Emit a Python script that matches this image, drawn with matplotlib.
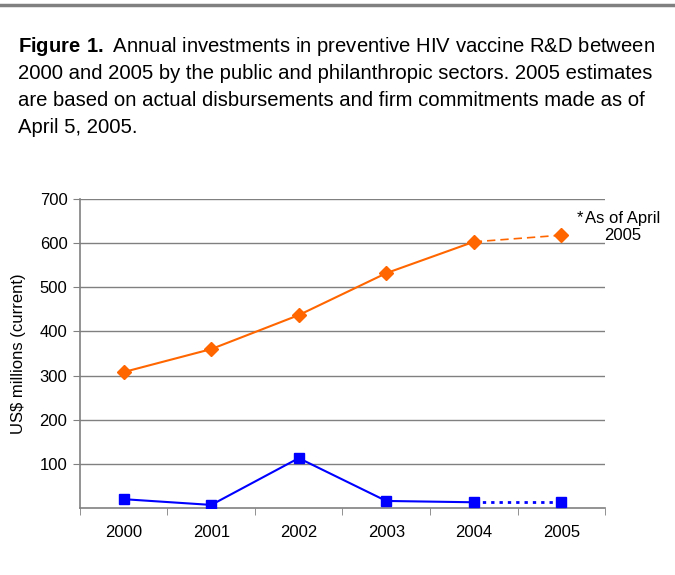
import matplotlib
matplotlib.use("Agg")
import matplotlib.pyplot as plt
from matplotlib.lines import Line2D

plt.rcParams["font.family"] = ["Liberation Sans", "DejaVu Sans"]
plt.rcParams["mathtext.fontset"] = "custom"
plt.rcParams["mathtext.rm"] = "Liberation Sans"
plt.rcParams["mathtext.bf"] = "Liberation Sans:bold"

YEARS = ["2000", "2001", "2002", "2003", "2004", "2005"]
PUBLIC = [308, 360, 437, 532, 603, 618]
PHILANTHROPIC = [20, 7, 113, 16, 13, 13]
Y_TICKS = [100, 200, 300, 400, 500, 600, 700]

CAPTION_LINES = [
    "$\\bf{Figure\\ 1.}$ Annual investments in preventive HIV vaccine R&D between",
    "2000 and 2005 by the public and philanthropic sectors. 2005 estimates",
    "are based on actual disbursements and firm commitments made as of",
    "April 5, 2005.",
]

ORANGE = "#FF6600"
BLUE = "#0000FF"
GRID = "#808080"

fig = plt.figure(figsize=(6.75, 5.75), dpi=100)
ax = fig.add_axes([0.1185, 0.1165, 0.7778, 0.5374])

x = list(range(len(YEARS)))

# actual years solid, 2005 estimate dashed/dotted
ax.plot(x[:5], PUBLIC[:5], color=ORANGE, lw=1.5, marker="D", ms=7,
        markeredgecolor=ORANGE, zorder=3)
ax.plot(x[4:], PUBLIC[4:], color=ORANGE, lw=1.2, ls=(0, (5, 3)), zorder=3)
ax.plot(x[5:], PUBLIC[5:], color=ORANGE, marker="D", ms=7, ls="none", zorder=3)

ax.plot(x[:5], PHILANTHROPIC[:5], color=BLUE, lw=1.5, marker="s", ms=7,
        markeredgecolor=BLUE, zorder=3)
ax.plot(x[4:], PHILANTHROPIC[4:], color=BLUE, lw=2, ls=(0, (1.2, 1.8)), zorder=3)
ax.plot(x[5:], PHILANTHROPIC[5:], color=BLUE, marker="s", ms=7, ls="none", zorder=3)

ax.set_xlim(-0.5, 5.5)
ax.set_ylim(0, 700)
ax.set_yticks(Y_TICKS)
ax.set_yticklabels([str(v) for v in Y_TICKS], fontsize=12)
ax.set_xticks(x)
ax.set_xticklabels(YEARS, fontsize=12)
ax.set_xticks([i - 0.5 for i in range(len(YEARS) + 1)], minor=True)
ax.tick_params(axis="x", which="major", length=0, pad=12)
ax.tick_params(axis="x", which="minor", length=5, color=GRID, direction="out")
ax.tick_params(axis="y", length=5, color=GRID, direction="out", pad=4)

ax.grid(axis="y", color=GRID, lw=1)
ax.set_axisbelow(True)
for side in ["top", "right"]:
    ax.spines[side].set_visible(False)
ax.spines["left"].set_color(GRID)
ax.spines["bottom"].set_color(GRID)
ax.spines["left"].set_linewidth(1.2)
ax.spines["bottom"].set_linewidth(1.2)

ax.set_ylabel("US$ millions (current)", fontsize=12, labelpad=10)

fig.text(0.855, 0.622, "*", fontsize=12, ha="left", va="center")
fig.text(0.922, 0.605, "As of April\n2005", fontsize=12, ha="center", va="center",
         linespacing=1.2, multialignment="center")

fig.add_artist(Line2D([0, 1], [0.992, 0.992], color=GRID, lw=2.5,
                      transform=fig.transFigure))

# caption, one line at a time so the spacing stays even
for i, line in enumerate(CAPTION_LINES):
    fig.text(0.027, 1 - (52 + 27 * i) / 575, line, fontsize=14.6,
             ha="left", va="baseline")

fig.savefig("out.png", dpi=100)
